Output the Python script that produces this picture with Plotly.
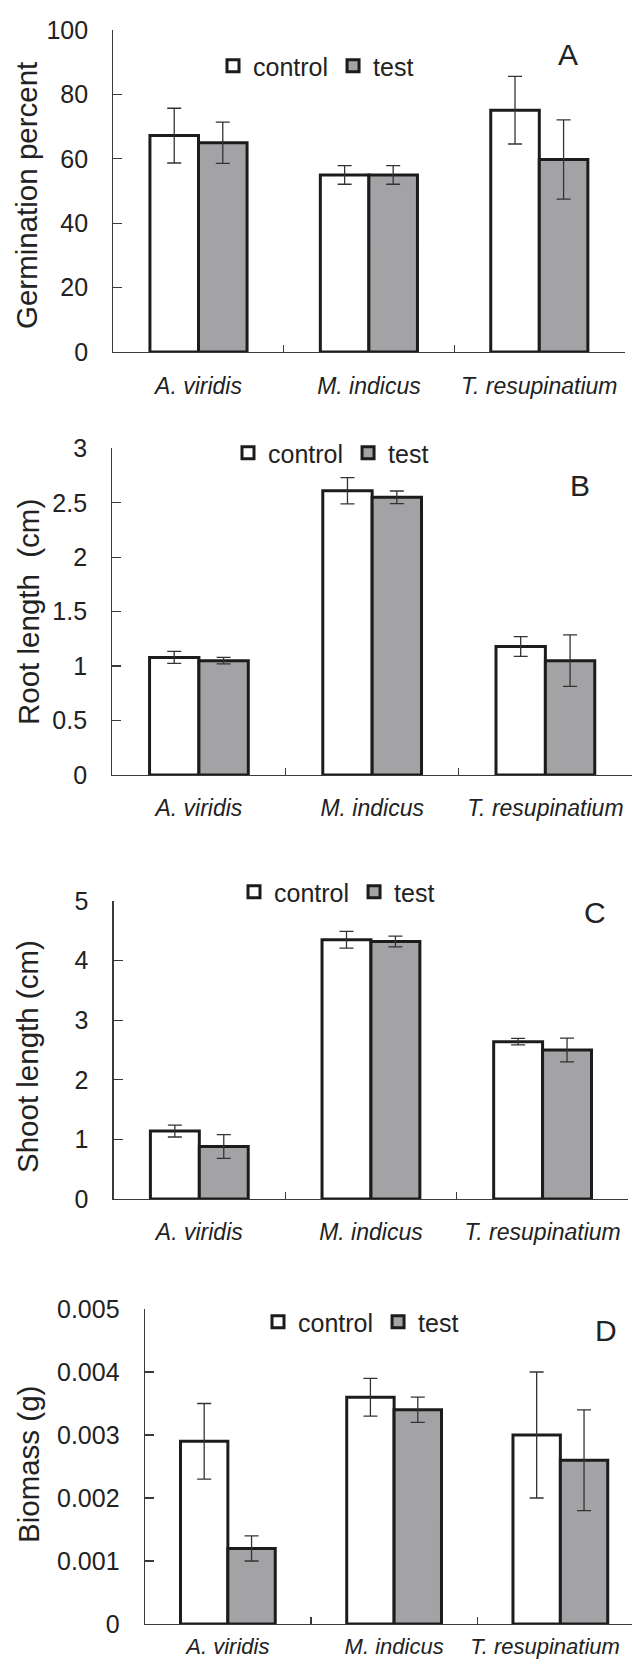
import plotly.graph_objects as go

# ---------------- data ----------------
species = ["A. viridis", "M. indicus", "T. resupinatium"]
# panel D's last label sits slightly left of its bars in the original (padded with no-break spaces)
species_labels_d = ["A. viridis", "M. indicus", "T. resupinatium\u00a0\u00a0\u00a0\u00a0\u00a0"]
series_names = ["control", "test"]

germ_control = [67.2, 55.0, 75.1]
germ_control_err = [8.5, 2.9, 10.5]
germ_test = [65.0, 55.0, 59.8]
germ_test_err = [6.4, 2.9, 12.3]

root_control = [1.08, 2.61, 1.18]
root_control_err = [0.055, 0.12, 0.09]
root_test = [1.05, 2.55, 1.05]
root_test_err = [0.03, 0.058, 0.237]

shoot_control = [1.14, 4.35, 2.64]
shoot_control_err = [0.10, 0.14, 0.055]
shoot_test = [0.88, 4.32, 2.50]
shoot_test_err = [0.20, 0.09, 0.20]

bio_control = [0.0029, 0.0036, 0.0030]
bio_control_err = [0.0006, 0.0003, 0.0010]
bio_test = [0.0012, 0.0034, 0.0026]
bio_test_err = [0.0002, 0.0002, 0.0008]

germ_ticks = [0, 20, 40, 60, 80, 100]
root_ticks = [0, 0.5, 1, 1.5, 2, 2.5, 3]
root_ticklabels = ["0", "0.5", "1", "1.5", "2", "2.5", "3"]
shoot_ticks = [0, 1, 2, 3, 4, 5]
bio_ticks = [0, 0.001, 0.002, 0.003, 0.004, 0.005]
bio_ticklabels = ["0", "0.001", "0.002", "0.003", "0.004", "0.005"]

y_titles = ["Germination percent", "Root length  (cm)", "Shoot length (cm)", "Biomass (g)"]
panel_letters = ["A", "B", "C", "D"]

# ---------------- style / layout ----------------
W, H = 632, 1660
FONT = "Liberation Sans, Arial, sans-serif"
TXT = "#222222"
AX = "#3a3a3a"
GRAY = "#a3a3a6"
EDGE = "#1c1c1c"

def px(x):
    return x / W

def py(y):
    return 1 - y / H

panels = [
    dict(ctrl=germ_control, ce=germ_control_err, test=germ_test, te=germ_test_err,
         ticks=germ_ticks, labels=[str(t) for t in germ_ticks], yr=[0, 100],
         xlabels=species, xstand=13, xfs=23,
         xd=[113.3, 624.5], yd=[30, 352], xr=[-0.5, 2.5],
         leg=(213, 66), title=(27, 196), letter=(568, 54)),
    dict(ctrl=root_control, ce=root_control_err, test=root_test, te=root_test_err,
         ticks=root_ticks, labels=root_ticklabels, yr=[0, 3],
         xlabels=species, xstand=12, xfs=23,
         xd=[112.3, 632], yd=[448.3, 775], xr=[-0.5, 2.5],
         leg=(228, 453), title=(28, 612), letter=(580, 485)),
    dict(ctrl=shoot_control, ce=shoot_control_err, test=shoot_test, te=shoot_test_err,
         ticks=shoot_ticks, labels=[str(t) for t in shoot_ticks], yr=[0, 5],
         xlabels=species, xstand=12, xfs=23,
         xd=[113.5, 628.4], yd=[901, 1199], xr=[-0.5, 2.5],
         leg=(234, 892), title=(27, 1057), letter=(595, 912)),
    dict(ctrl=bio_control, ce=bio_control_err, test=bio_test, te=bio_test_err,
         ticks=bio_ticks, labels=bio_ticklabels, yr=[0, 0.005],
         xlabels=species_labels_d, xstand=2, xfs=22,
         xd=[144.75, 632], yd=[1309, 1624], xr=[-0.5, 2.431],
         leg=(258, 1322), title=(28, 1465), letter=(606, 1330)),
]

fig = go.Figure()
layout = dict(
    width=W, height=H,
    margin=dict(l=0, r=0, t=0, b=0),
    paper_bgcolor="white", plot_bgcolor="white",
    barmode="group", bargap=0.43, bargroupgap=0.0,
    font=dict(family=FONT, color=TXT, size=25),
    annotations=[],
)

for i, p in enumerate(panels):
    n = "" if i == 0 else str(i + 1)
    xa, ya = "x" + n, "y" + n
    legname = "legend" + n
    err_style = dict(type="data", color="#333333", thickness=1.3, width=7, visible=True)
    fig.add_trace(go.Bar(
        x=species, y=p["ctrl"], name=series_names[0], xaxis=xa, yaxis=ya,
        marker=dict(color="white", line=dict(color=EDGE, width=3)),
        error_y=dict(array=p["ce"], **err_style), legend=legname,
        offsetgroup="c", showlegend=True))
    fig.add_trace(go.Bar(
        x=species, y=p["test"], name=series_names[1], xaxis=xa, yaxis=ya,
        marker=dict(color=GRAY, line=dict(color=EDGE, width=3)),
        error_y=dict(array=p["te"], **err_style), legend=legname,
        offsetgroup="t", showlegend=True))

    layout["xaxis" + n] = dict(
        domain=[px(p["xd"][0]), px(p["xd"][1])], anchor=ya,
        type="category", range=p["xr"], tickson="boundaries",
        tickmode="array", tickvals=species, ticktext=p["xlabels"], tickangle=0,
        ticks="inside", ticklen=7, tickwidth=1.2, tickcolor=AX,
        showline=True, linecolor=AX, linewidth=1.2, showgrid=False, zeroline=False,
        tickfont=dict(family=FONT, size=p["xfs"], color=TXT, style="italic"),
        ticklabelstandoff=p["xstand"], fixedrange=True, automargin=False,
    )
    layout["yaxis" + n] = dict(
        domain=[py(p["yd"][1]), py(p["yd"][0])], anchor=xa,
        range=p["yr"], tickvals=p["ticks"], ticktext=p["labels"], tickangle=0,
        ticks="inside", ticklen=9, tickwidth=1.2, tickcolor=AX,
        showline=True, linecolor=AX, linewidth=1.2, showgrid=False, zeroline=False,
        tickfont=dict(family=FONT, size=25, color=TXT),
        ticklabelstandoff=19, fixedrange=True, automargin=False,
    )
    layout[legname] = dict(
        orientation="h", x=px(p["leg"][0]), y=py(p["leg"][1]),
        xanchor="left", yanchor="middle", bgcolor="rgba(0,0,0,0)",
        font=dict(family=FONT, size=25, color=TXT), itemwidth=30,
        tracegroupgap=0, traceorder="normal",
    )
    layout["annotations"].append(dict(
        text=y_titles[i], xref="paper", yref="paper",
        x=px(p["title"][0]), y=py(p["title"][1]), xanchor="center", yanchor="middle",
        textangle=-90, showarrow=False, font=dict(family=FONT, size=29.5, color=TXT)))
    layout["annotations"].append(dict(
        text=panel_letters[i], xref="paper", yref="paper",
        x=px(p["letter"][0]), y=py(p["letter"][1]), xanchor="center", yanchor="middle",
        showarrow=False, font=dict(family=FONT, size=30, color=TXT)))

fig.update_layout(**layout)
fig.write_html(
    "out.html",
    config={"displayModeBar": False, "staticPlot": True},
    post_script=(
        "document.documentElement.style.margin='0';"
        "document.documentElement.style.overflow='hidden';"
        "document.body.style.margin='0';"
        "document.body.style.padding='0';"
        "document.body.style.overflow='hidden';"
    ),
)
